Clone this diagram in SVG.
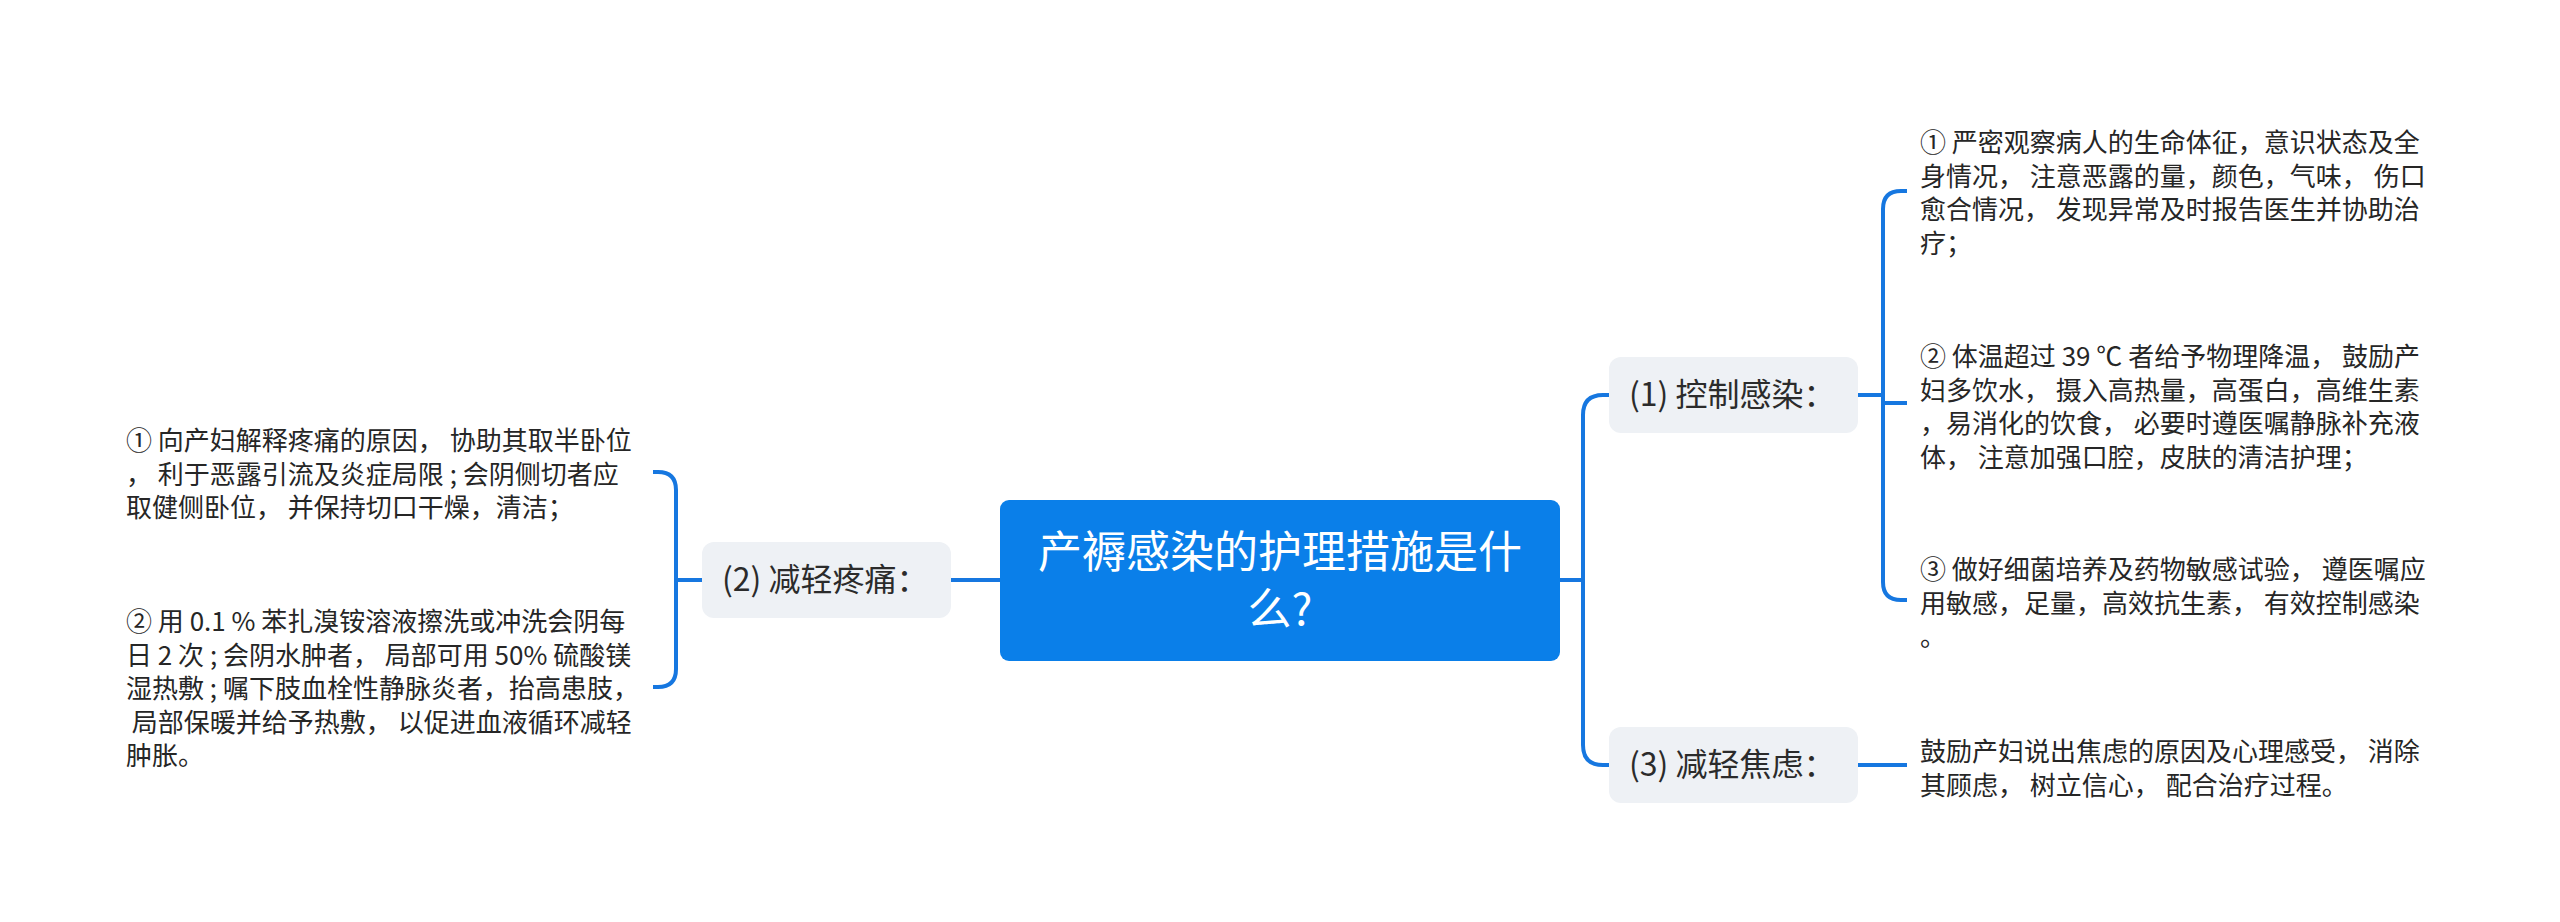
<svg xmlns="http://www.w3.org/2000/svg" width="2560" height="922" viewBox="0 0 2560 922">
<style>
.conn{fill:none;stroke:#1677e0;stroke-width:4;stroke-linecap:butt}
.root{fill:#0a7fe9}
.rootT{font-family:"Noto Sans CJK SC",sans-serif;font-size:44px;fill:#ffffff;text-anchor:middle}
.br{fill:#eef1f5}
.brT{font-family:"Noto Sans CJK SC",sans-serif;font-size:32px;fill:#2b2b2b}
.leaf{font-family:"Noto Sans CJK SC",sans-serif;font-size:26px;fill:#262626;white-space:pre}
</style>
<rect width="2560" height="922" fill="#ffffff"/>
<g id="connectors">
<path class="conn" d="M1559,580 H1583"/>
<path class="conn" d="M1609,395 H1603 Q1583,395 1583,415 V745 Q1583,765 1603,765 H1609"/>
<path class="conn" d="M1858,395 H1883"/>
<path class="conn" d="M1907,191 H1901 Q1883,191 1883,209 V582 Q1883,600 1901,600 H1907"/>
<path class="conn" d="M1883,403 H1907"/>
<path class="conn" d="M1858,765 H1907"/>
<path class="conn" d="M1000,580 H951"/>
<path class="conn" d="M702,580 H676"/>
<path class="conn" d="M653,472 H658 Q676,472 676,490 V669 Q676,687 658,687 H653"/>
</g>
<g id="root">
<rect class="root" x="1000" y="500" width="560" height="161" rx="9"/>
<text class="rootT" x="1280" y="568">产褥感染的护理措施是什</text>
<text class="rootT" x="1280" y="625">么?</text>
</g>
<g id="branch1">
<rect class="br" x="1609" y="357" width="249" height="76" rx="12"/>
<text class="brT" x="1629" y="406">(1) 控制感染：</text>
</g>
<g id="branch3">
<rect class="br" x="1609" y="727" width="249" height="76" rx="12"/>
<text class="brT" x="1629" y="776">(3) 减轻焦虑：</text>
</g>
<g id="branch2">
<rect class="br" x="702" y="542" width="249" height="76" rx="12"/>
<text class="brT" x="722" y="591">(2) 减轻疼痛：</text>
</g>
<g id="leaf1-1">
<text class="leaf" x="1920" y="152">① 严密观察病人的生命体征，意识状态及全</text>
<text class="leaf" x="1920" y="185.5">身情况， 注意恶露的量，颜色，气味， 伤口</text>
<text class="leaf" x="1920" y="219">愈合情况， 发现异常及时报告医生并协助治</text>
<text class="leaf" x="1920" y="252.5">疗；</text>
</g>
<g id="leaf1-2">
<text class="leaf" x="1920" y="366">② 体温超过 39 ℃ 者给予物理降温， 鼓励产</text>
<text class="leaf" x="1920" y="399.5">妇多饮水， 摄入高热量，高蛋白，高维生素</text>
<text class="leaf" x="1920" y="433">，易消化的饮食， 必要时遵医嘱静脉补充液</text>
<text class="leaf" x="1920" y="466.5">体， 注意加强口腔，皮肤的清洁护理；</text>
</g>
<g id="leaf1-3">
<text class="leaf" x="1920" y="579">③ 做好细菌培养及药物敏感试验， 遵医嘱应</text>
<text class="leaf" x="1920" y="612.5">用敏感，足量，高效抗生素， 有效控制感染</text>
<text class="leaf" x="1920" y="646">。</text>
</g>
<g id="leaf3-1">
<text class="leaf" x="1920" y="761">鼓励产妇说出焦虑的原因及心理感受， 消除</text>
<text class="leaf" x="1920" y="794.5">其顾虑， 树立信心， 配合治疗过程。</text>
</g>
<g id="leaf2-1">
<text class="leaf" x="126" y="450">① 向产妇解释疼痛的原因， 协助其取半卧位</text>
<text class="leaf" x="126" y="483.5">， 利于恶露引流及炎症局限 ; 会阴侧切者应</text>
<text class="leaf" x="126" y="517">取健侧卧位， 并保持切口干燥，清洁；</text>
</g>
<g id="leaf2-2">
<text class="leaf" x="126" y="631">② 用 0.1 % 苯扎溴铵溶液擦洗或冲洗会阴每</text>
<text class="leaf" x="126" y="664.5">日 2 次 ; 会阴水肿者， 局部可用 50% 硫酸镁</text>
<text class="leaf" x="126" y="698">湿热敷 ; 嘱下肢血栓性静脉炎者，抬高患肢，</text>
<text class="leaf" x="126" y="731.5"> 局部保暖并给予热敷， 以促进血液循环减轻</text>
<text class="leaf" x="126" y="765">肿胀。</text>
</g>
</svg>
